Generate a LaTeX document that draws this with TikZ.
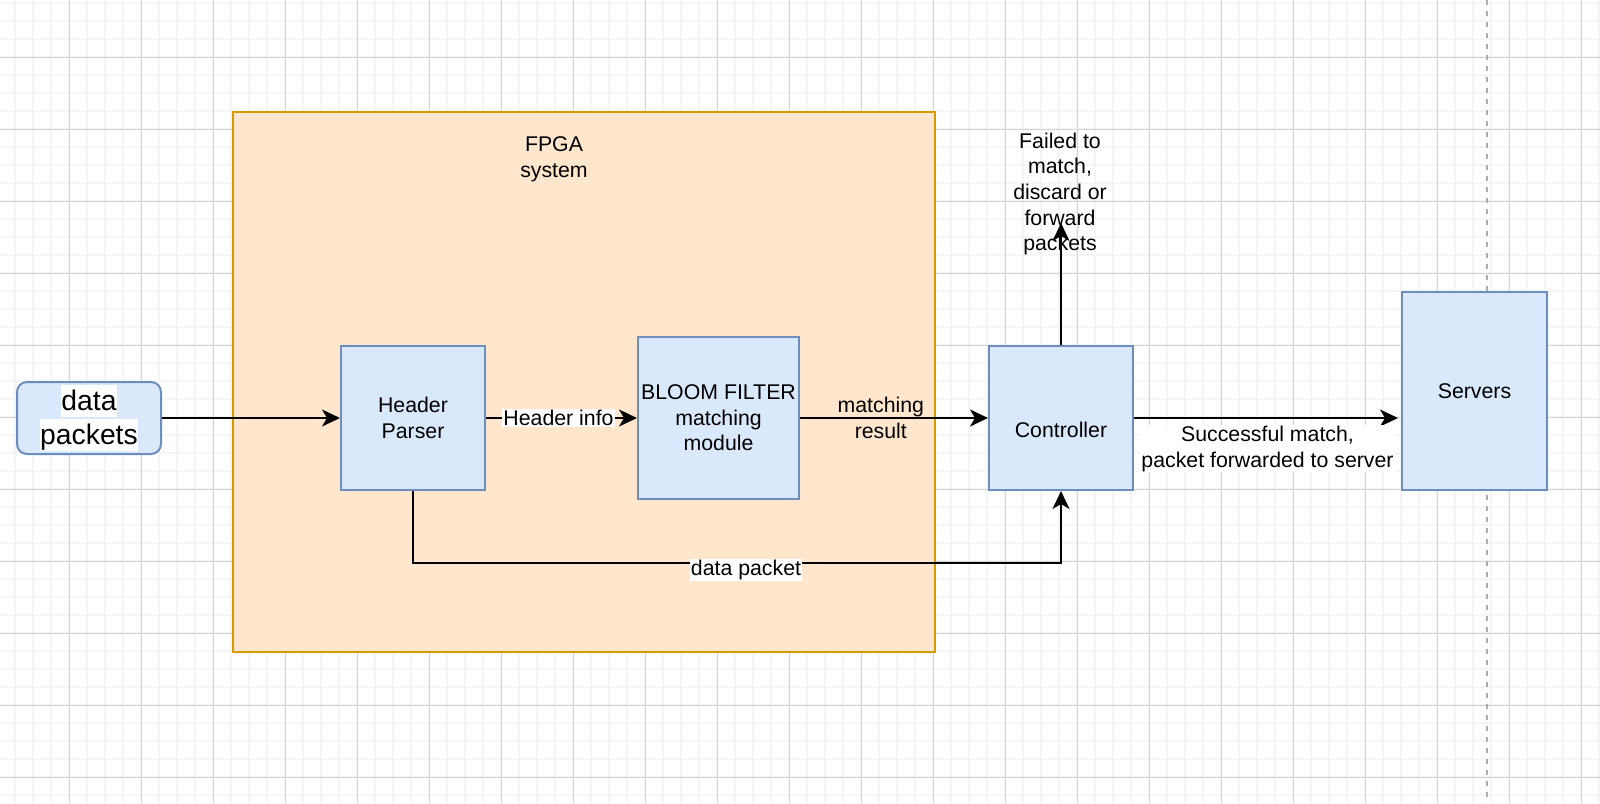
\documentclass[tikz,border=0pt]{standalone}
\usepackage{fontspec}
\setmainfont{Liberation Sans}
\usetikzlibrary{arrows.meta,shapes}

\definecolor{blockfill}{HTML}{DAE8FC}
\definecolor{blockline}{HTML}{6C8EBF}
\definecolor{fpgafill}{HTML}{FFE6CC}
\definecolor{fpgaline}{HTML}{D79B00}
\definecolor{gridminor}{HTML}{F5F5F5}
\definecolor{gridmajor}{HTML}{D3D3D3}

\begin{document}
\begin{tikzpicture}[x=1pt, y=-1pt,
  every node/.style={font=\fontsize{21.3}{25.6}\selectfont, align=center},
  block/.style={draw=blockline, fill=blockfill, line width=2pt, minimum width=144pt, minimum height=144pt, inner sep=0pt},
  fpgabox/.style={draw=fpgaline, fill=fpgafill, line width=2pt, minimum width=702pt, minimum height=540pt},
  flow/.style={->, line width=2pt, >={Stealth[length=18pt, width=17pt, inset=5pt]}},
  lbl/.style={fill=white, inner sep=1pt},
  txt/.style={inner sep=0pt}]

  \useasboundingbox (0,0) rectangle (1600,803);
  \fill[white] (0,0) rectangle (1600,803);
  % grid
  \foreach \x in {15,33,...,1599} \draw[gridminor, line width=1.3pt] (\x,0) -- (\x,803);
  \foreach \y in {3,21,...,803} \draw[gridminor, line width=1.3pt] (0,\y) -- (1600,\y);
  \foreach \x in {69,141,...,1599} \draw[gridmajor, line width=1pt] (\x,0) -- (\x,803);
  \foreach \y in {57,129,...,803} \draw[gridmajor, line width=1pt] (0,\y) -- (1600,\y);
  \draw[gray!65, line width=1.5pt, dash pattern=on 5pt off 6pt] (1487,0) -- (1487,803);

  \node (fpga) [fpgabox] at (584,382) {};
  \node (fpgalabel) [txt] at (554,159) {FPGA\\system};

  \node (packets) [draw=blockline, fill=blockfill, line width=2pt, rounded corners=10pt, minimum width=144pt, minimum height=72pt, inner sep=0pt, font=\fontsize{28.3}{34}\selectfont] at (89,418)
    {\fboxsep=0pt\colorbox{white}{\rule[-7pt]{0pt}{32pt}data}\\[0pt]\fboxsep=0pt\colorbox{white}{\rule[-7pt]{0pt}{32pt}packets}};
  \node (hp) [block] at (413,418) {Header\\Parser};
  \node (bloom) [block, minimum width=161pt, minimum height=162pt] at (718.5,418) {BLOOM FILTER\\matching\\module};
  \node (ctrl) [block, label={[yshift=-12pt]center:Controller}] at (1061,418) {};
  \node (servers) [block, minimum width=145pt, minimum height=198pt] at (1474.5,391) {Servers};
  \node (failtxt) [txt] at (1060,194) {Failed to\\match,\\discard or\\forward\\packets};
  \coordinate (fail) at (1061,223);

  % connectors
  \draw[flow] (packets) -- (hp);
  \draw[flow] (hp) -- node[lbl, xshift=-3pt] {Header info} (bloom);
  \draw[flow] (bloom) -- node[txt, pos=0.43] {matching\\result} (ctrl);
  \draw[flow, shorten >=3pt] (ctrl.east) -- node[lbl, below=6pt] {Successful match,\\packet forwarded to server} (ctrl.east -| servers.west);
  \draw[flow] (ctrl) -- (fail);
  \draw[flow] (hp.south) -- ++(0,72) -| node[lbl, pos=0.25, xshift=9pt, yshift=-7pt] {data packet} (ctrl.south);
\end{tikzpicture}
\end{document}
